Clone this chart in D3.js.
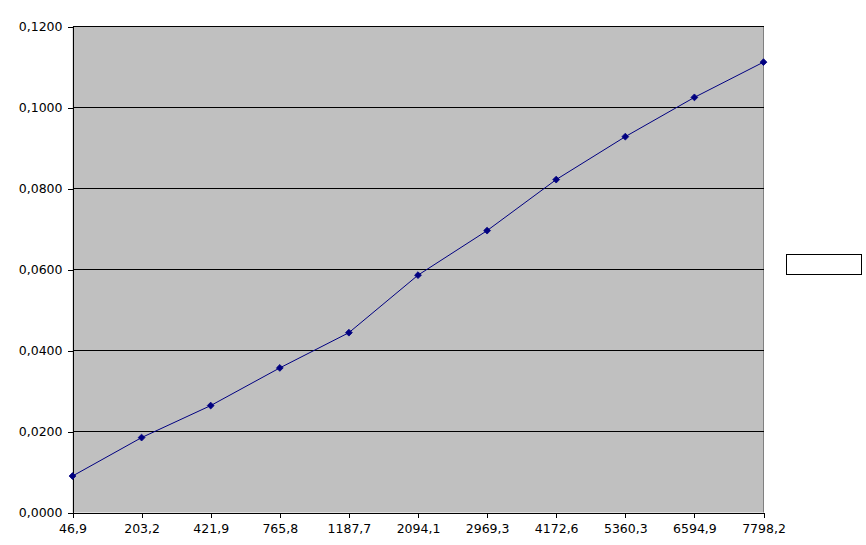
<!DOCTYPE html>
<html><head><meta charset="utf-8">
<script src="https://cdn.jsdelivr.net/npm/d3@7/dist/d3.min.js"></script>
<style>body{margin:0;background:#fff}svg{display:block}text{font-family:"DejaVu Sans",sans-serif;font-size:12.5px;fill:#000}</style>
</head><body><svg id="c" width="866" height="545"></svg>
<script>
const categories = ["46,9","203,2","421,9","765,8","1187,7","2094,1","2969,3","4172,6","5360,3","6594,9","7798,2"];
const values = [0.0090,0.0185,0.0264,0.0357,0.0444,0.0586,0.0696,0.0822,0.0928,0.1025,0.1112];
const yTicks = [0,0.02,0.04,0.06,0.08,0.10,0.12];

const svg = d3.select("#c");
const L=72.5, R=763.5, T=26.5, B=512.5;
const x = d3.scalePoint().domain(categories).range([L,R]);
const y = d3.scaleLinear().domain([0,0.12]).range([B,T]);
const fmt = v => d3.format(".4f")(v).replace(".",",");
const ry = v => Math.floor(y(v)) + 0.5;

svg.append("rect").attr("x",L).attr("y",T).attr("width",R-L).attr("height",B-T).attr("fill","#c0c0c0");
// right border
svg.append("line").attr("x1",R).attr("x2",R).attr("y1",T).attr("y2",B).attr("stroke","#808080");
// gridlines
svg.append("g").selectAll("line").data(yTicks.filter(v=>v>0)).join("line")
  .attr("x1",L).attr("x2",R).attr("y1",ry).attr("y2",ry)
  .attr("stroke","#000").attr("stroke-width",1).attr("shape-rendering","crispEdges");

const ya = svg.append("g").attr("transform",`translate(${L},0)`)
  .call(d3.axisLeft(y).tickValues(yTicks).tickFormat(fmt).tickSize(5).tickSizeOuter(0).tickPadding(5));
const xa = svg.append("g").attr("transform",`translate(0,${B})`)
  .call(d3.axisBottom(x).tickSize(5).tickSizeOuter(0).tickPadding(7));
[ya,xa].forEach(a=>{a.select(".domain").attr("stroke","#000").attr("shape-rendering","crispEdges");
  a.selectAll("line").attr("stroke","#000").attr("shape-rendering","crispEdges");
  a.selectAll("text").attr("font-family","DejaVu Sans").attr("font-size",12.5).attr("fill","#000");});

const pts = categories.map((c,i)=>[x(c),y(values[i])]);
svg.append("path").attr("d",d3.line()(pts)).attr("fill","none").attr("stroke","#000080").attr("stroke-width",1);
svg.append("g").selectAll("path").data(pts).join("path")
  .attr("d",d3.symbol(d3.symbolDiamond2,30)())
  .attr("transform",d=>`translate(${d[0]},${d[1]})`).attr("fill","#000080").attr("stroke","#000080").attr("stroke-width",0.8);

// legend box
svg.append("rect").attr("x",786.5).attr("y",254.5).attr("width",75).attr("height",20).attr("fill","#fff").attr("stroke","#000");
</script></body></html>
